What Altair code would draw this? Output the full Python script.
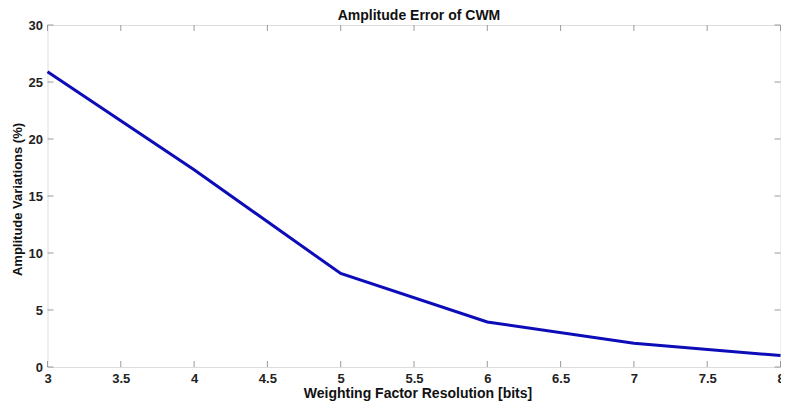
import altair as alt
import pandas as pd

bits = [3, 4, 5, 6, 7, 8]
amp_var = [25.9, 17.3, 8.2, 3.95, 2.08, 1.0]
x_ticks = [3, 3.5, 4, 4.5, 5, 5.5, 6, 6.5, 7, 7.5, 8]
y_ticks = [0, 5, 10, 15, 20, 25, 30]

W, H = 733, 342
FONT = "Liberation Sans"
AX = "#9a9a9a"
LINE = "#0c0cb8"

line_df = pd.DataFrame({"x": bits, "y": amp_var})
xt_df = pd.DataFrame({"x": x_ticks})
yt_df = pd.DataFrame({"y": y_ticks})

xscale = alt.Scale(domain=[3, 8], nice=False, zero=False)
yscale = alt.Scale(domain=[0, 30], nice=False)

X = alt.X("x:Q", scale=xscale,
          axis=alt.Axis(values=x_ticks, format="~g", title="Weighting Factor Resolution [bits]",
                        ticks=False, domain=False, grid=False, labelFlush=False,
                        labelPadding=5, labelFontSize=13, labelFontWeight="bold",
                        labelColor="#222222", labelFont=FONT,
                        titleFont=FONT, titleFontSize=14, titleFontWeight="bold",
                        titleColor="#111111", titleX=370, titleY=26,
                        titleBaseline="middle", titleAlign="center"))
Y = alt.Y("y:Q", scale=yscale,
          axis=alt.Axis(values=y_ticks, format="~g", title="Amplitude Variations (%)",
                        ticks=False, domain=False, grid=False, labelFlush=False,
                        labelPadding=5, labelFontSize=13, labelFontWeight="bold",
                        labelColor="#222222", labelFont=FONT,
                        titleFont=FONT, titleFontSize=13, titleFontWeight="bold",
                        titleColor="#111111", titleX=-30, titleY=174,
                        titleBaseline="middle"))

line = alt.Chart(line_df).mark_line(color=LINE, strokeWidth=3, clip=False).encode(x=X, y=Y)

xt_bottom = alt.Chart(xt_df).mark_rule(color=AX, strokeWidth=1).encode(
    x=X, y=alt.value(H), y2=alt.value(H - 6))
xt_top = alt.Chart(xt_df).mark_rule(color=AX, strokeWidth=1).encode(
    x=X, y=alt.value(0), y2=alt.value(6))
yt_left = alt.Chart(yt_df).mark_rule(color=AX, strokeWidth=1).encode(
    y=Y, x=alt.value(0), x2=alt.value(6))
yt_right = alt.Chart(yt_df).mark_rule(color=AX, strokeWidth=1).encode(
    y=Y, x=alt.value(W), x2=alt.value(W - 6))

chart = alt.layer(xt_bottom, xt_top, yt_left, yt_right, line).properties(
    width=W, height=H,
    title=alt.TitleParams("Amplitude Error of CWM", font=FONT, fontSize=14,
                          fontWeight="bold", color="#111111", offset=4, frame="group",
                          dy=8, dx=5),
    autosize=alt.AutoSizeParams(type="none"),
    padding={"left": 39.5, "top": 17, "right": 0.5, "bottom": 37},
).configure_view(stroke=AX, strokeWidth=1).configure(background="white")

chart.save("out.html", embed_options={"renderer": "svg", "actions": False})
